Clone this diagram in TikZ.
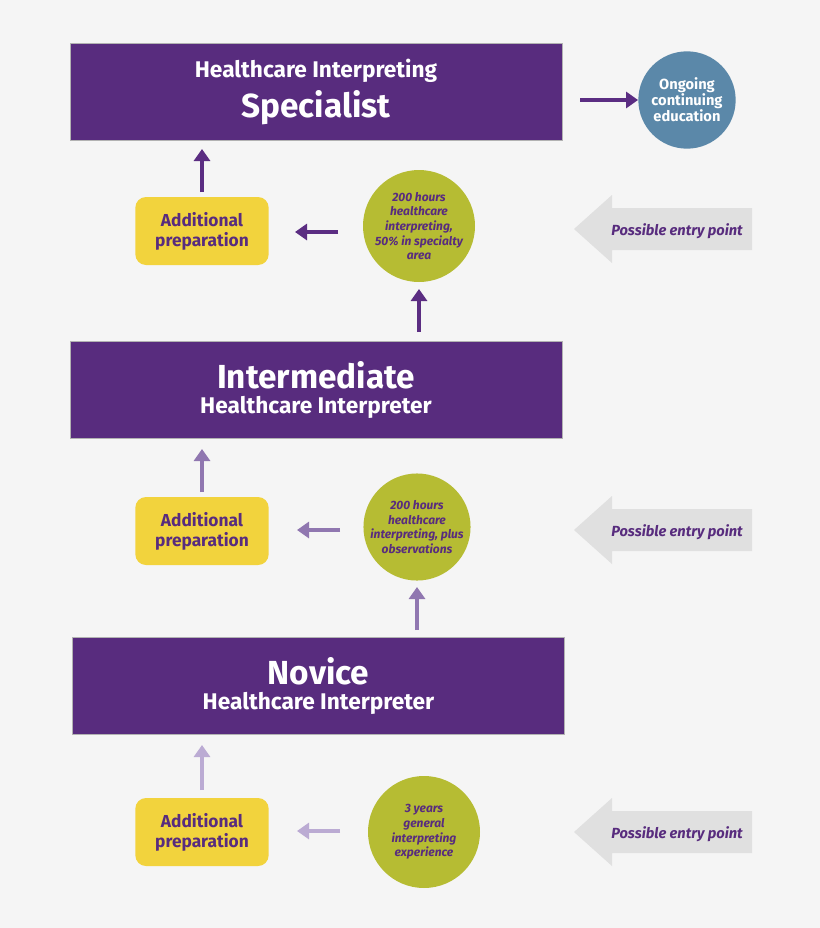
\documentclass[tikz,border=0pt]{standalone}
\usepackage{fontspec}
\setmainfont{Fira Sans}
\usetikzlibrary{arrows.meta}
\definecolor{bg}{HTML}{F5F5F5}
\definecolor{purp}{HTML}{582C7E}
\definecolor{arr1}{HTML}{5B2D82}
\definecolor{arr2}{HTML}{9077B0}
\definecolor{arr3}{HTML}{BBABD3}
\definecolor{yel}{HTML}{F2D33D}
\definecolor{grn}{HTML}{B6BC33}
\definecolor{blu}{HTML}{5B88A9}
\definecolor{gry}{HTML}{E0E0E0}
\newcommand{\smallt}[1]{{\fontsize{17}{20}\selectfont #1}}
\newcommand{\bigt}[1]{{\fontsize{25}{28}\selectfont #1}}
\tikzset{
 level/.style={fill=purp,draw=gray!60,minimum width=369pt,minimum height=73pt,inner sep=0pt,text=white,align=center,font=\bfseries},
 prep/.style={fill=yel,rounded corners=8pt,minimum width=100pt,minimum height=51pt,text=purp,font=\bfseries\fontsize{13}{15}\selectfont,align=center},
 req/.style={circle,fill=grn,inner sep=0pt,text=purp,font=\bfseries\itshape\fontsize{9}{11}\selectfont,align=center},
 flow/.style={line width=3pt,-{Triangle[length=9pt,width=12pt]}},
}
\begin{document}
\begin{tikzpicture}[x=0.75pt,y=-0.75pt]
\fill[bg] (0,0) rectangle (820,928);
% levels
\node[level] (spec) at (316,92) {\smallt{Healthcare Interpreting}\\[5pt]\bigt{Specialist}};
\node[level] (inter) at (316,390) {\bigt{Intermediate}\\[4pt]\smallt{Healthcare Interpreter}};
\node[level] (nov) at (318.5,686) {\bigt{Novice}\\[4pt]\smallt{Healthcare Interpreter}};
% ongoing
\node[circle,fill=blu,minimum size=73pt,inner sep=0pt,text=white,align=center,font=\bfseries\fontsize{11}{12}\selectfont] (ong) at (687,100) {Ongoing\\continuing\\education};
\coordinate (o1) at (580,100);
\draw[flow,arr1] (o1) -- (ong.west);
% preps
\node[prep] (p1) at (202,231) {Additional\\preparation};
\node[prep] (p2) at (202,531) {Additional\\preparation};
\node[prep] (p3) at (202,832) {Additional\\preparation};
% requirements
\node[req,minimum size=84pt] (r1) at (419,226) {200 hours\\healthcare\\interpreting,\\50\% in specialty\\area};
\node[req,minimum size=80pt] (r2) at (417,527) {200 hours\\healthcare\\interpreting, plus\\observations};
\node[req,minimum size=84pt] (r3) at (424,832) {3 years\\general\\interpreting\\experience};
% arrows
\coordinate (a1) at (202,192); \coordinate (b1) at (202,149);
\draw[flow,arr1] (a1) -- (b1);
\coordinate (a2) at (338,232); \coordinate (b2) at (295,232);
\draw[flow,arr1] (a2) -- (b2);
\coordinate (a3) at (419,332); \coordinate (b3) at (419,289);
\draw[flow,arr1] (a3) -- (b3);
\coordinate (c1) at (202,492); \coordinate (d1) at (202,449);
\draw[flow,arr2] (c1) -- (d1);
\coordinate (c2) at (340,530); \coordinate (d2) at (297,530);
\draw[flow,arr2] (c2) -- (d2);
\coordinate (c3) at (417,630); \coordinate (d3) at (417,587);
\draw[flow,arr2] (c3) -- (d3);
\coordinate (e1) at (202,790); \coordinate (f1) at (202,745);
\draw[flow,arr3] (e1) -- (f1);
\coordinate (e2) at (340,831); \coordinate (f2) at (297,831);
\draw[flow,arr3] (e2) -- (f2);
% entry arrows
\foreach \y/\n in {229/en1,530/en2,832/en3}{
 \fill[gry] (752,\y-21) -- (612,\y-21) -- (612,\y-34) -- (574,\y) -- (612,\y+34) -- (612,\y+21) -- (752,\y+21) -- cycle;
 \node[text=purp,font=\itshape\bfseries\fontsize{11}{13}\selectfont] (\n) at (677,\y+2) {Possible entry point};
}
\end{tikzpicture}
\end{document}
